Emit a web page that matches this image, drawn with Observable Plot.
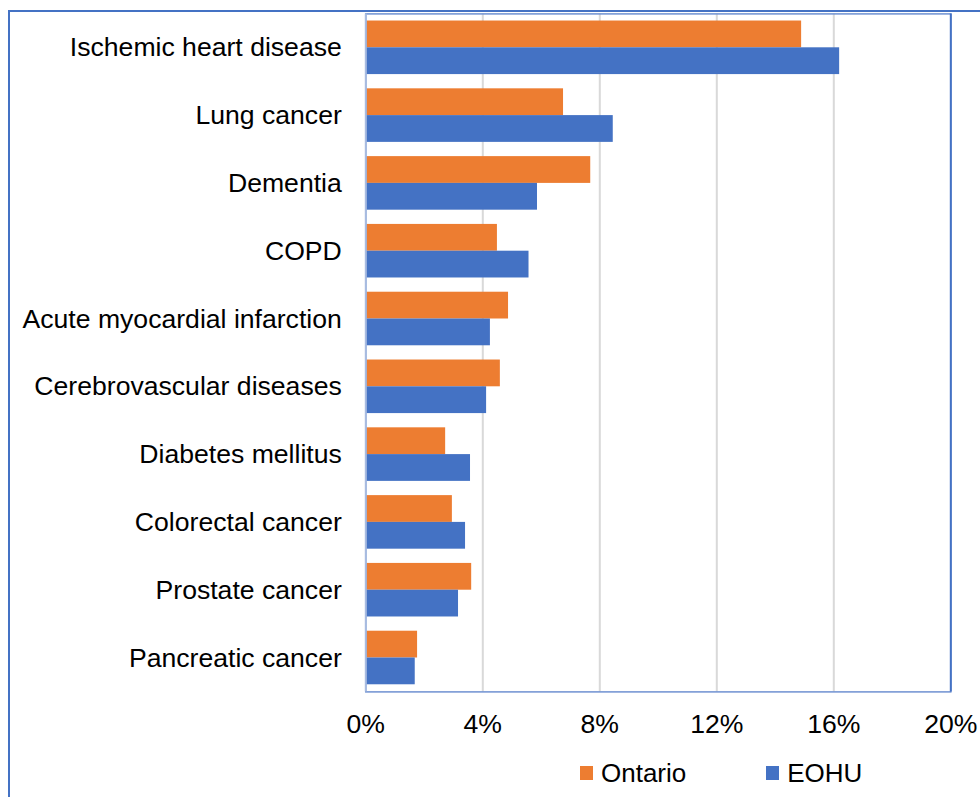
<!DOCTYPE html>
<html>
<head>
<meta charset="utf-8">
<script src="https://cdn.jsdelivr.net/npm/d3@7"></script>
<script src="https://cdn.jsdelivr.net/npm/@observablehq/plot@0.6"></script>
<style>
  html, body { margin: 0; padding: 0; overflow: hidden; background: #fff; }
  body { width: 980px; height: 797px; position: relative; font-family: "Liberation Sans", Arial, sans-serif; }
  #chart { position: absolute; left: 0; top: 0; }
  #border { position: absolute; left: 7.5px; top: 10px; width: 1100px; height: 900px; border: 2px solid #4472C4; box-sizing: border-box; pointer-events: none; }
  #legend { position: absolute; top: 760px; left: 580px; display: flex; align-items: center; font-size: 26px; line-height: 26px; color: #000; }
  .item { display: flex; align-items: center; }
  .sw { width: 12.5px; height: 13.5px; margin-right: 8.5px; }
</style>
</head>
<body>
<div id="chart"></div>
<div id="legend"></div>
<div id="border"></div>
<script>
const categories = ["Ischemic heart disease", "Lung cancer", "Dementia", "COPD", "Acute myocardial infarction", "Cerebrovascular diseases", "Diabetes mellitus", "Colorectal cancer", "Prostate cancer", "Pancreatic cancer"];
const ontario = [14.9, 6.76, 7.69, 4.5, 4.88, 4.6, 2.73, 2.96, 3.62, 1.77];
const eohu = [16.2, 8.46, 5.87, 5.58, 4.26, 4.13, 3.58, 3.41, 3.17, 1.69];
const seriesNames = ["Ontario", "EOHU"];
const seriesColors = ["#ED7D31", "#4472C4"];
const xTicks = [0, 4, 8, 12, 16, 20];
const gridTicks = [4, 8, 12, 16];

const ontData = categories.map((c, i) => ({category: c, value: ontario[i]}));
const eohuData = categories.map((c, i) => ({category: c, value: eohu[i]}));

const W = 980, H = 750;
const mTop = 13.4, mBottom = 58.6, mLeft = 365.3, mRight = 29.7;
const padInner = 0.21, padOuter = padInner / 2;
const step = (H - mTop - mBottom) / categories.length;
const half = step * (1 - padInner) / 2;

const chart = Plot.plot({
  width: W,
  height: H,
  marginTop: mTop,
  marginBottom: mBottom,
  marginLeft: mLeft,
  marginRight: mRight,
  style: {fontSize: "26.6px", fontFamily: "'Liberation Sans', Arial, sans-serif", color: "#000", background: "transparent", overflow: "visible"},
  x: {domain: [0, 20], ticks: xTicks, tickFormat: d => d + "%", tickSize: 0, tickPadding: 22, label: null},
  y: {domain: categories, paddingInner: padInner, paddingOuter: padOuter, round: false, tickSize: 0, tickPadding: 24, label: null},
  marks: [
    Plot.ruleX(gridTicks, {stroke: "#D9D9D9", strokeWidth: 2}),
    Plot.barX(ontData, {x: "value", y: "category", fill: seriesColors[0], insetBottom: half}),
    Plot.barX(eohuData, {x: "value", y: "category", fill: seriesColors[1], insetTop: half}),
    Plot.frame({stroke: "#6F91D2", strokeWidth: 1.5}),
    Plot.ruleX([0], {stroke: "#A8BBE0", strokeWidth: 2}),
    Plot.ruleX([20], {stroke: "#4472C4", strokeWidth: 2})
  ]
});
document.getElementById("chart").appendChild(chart);

const legend = document.getElementById("legend");
seriesNames.forEach((name, i) => {
  const item = document.createElement("div");
  item.className = "item";
  if (i > 0) item.style.marginLeft = "80px";
  const sw = document.createElement("div");
  sw.className = "sw";
  sw.style.background = seriesColors[i];
  const t = document.createElement("span");
  t.textContent = name;
  item.appendChild(sw);
  item.appendChild(t);
  legend.appendChild(item);
});
</script>
</body>
</html>
